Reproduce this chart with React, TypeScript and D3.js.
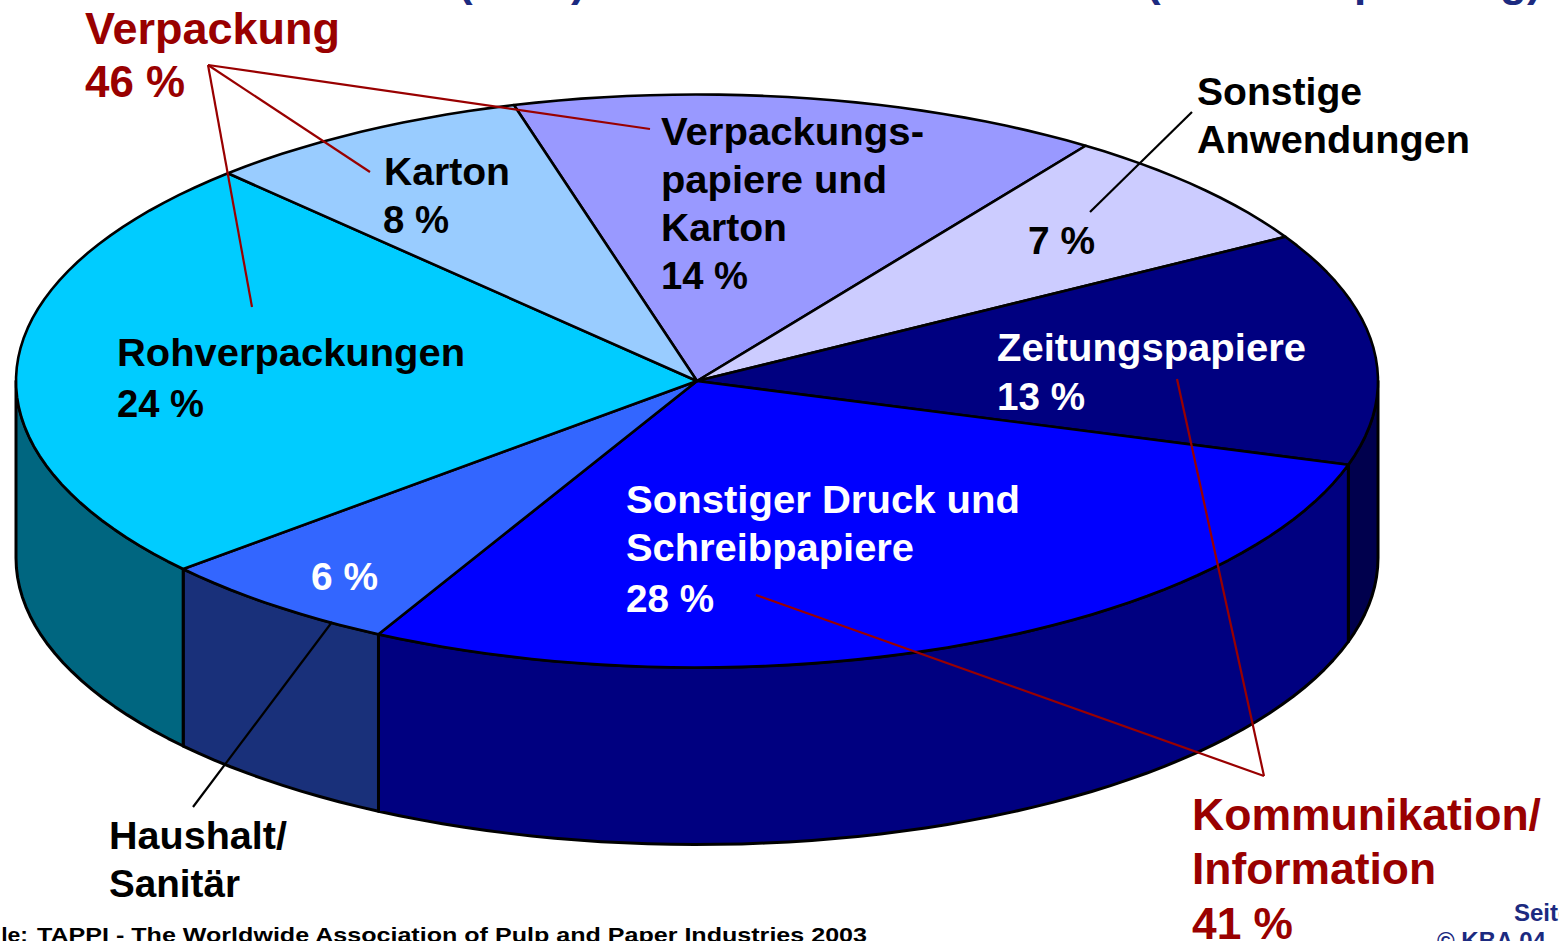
import React from "react";
import * as d3 from "d3";

const categories = [
  "Verpackungspapiere und Karton",
  "Sonstige Anwendungen",
  "Zeitungspapiere",
  "Sonstiger Druck und Schreibpapiere",
  "Haushalt/Sanitär",
  "Rohverpackungen",
  "Karton",
];
const shares = [14, 6.94, 13.11, 28.03, 5.86, 24.3, 7.76];
const topColours = ["#9999FF", "#CCCCFF", "#000080", "#0000FF", "#3366FF", "#00CCFF", "#99CCFF"];
const wallColours = ["#6666AA", "#8888AA", "#00004D", "#000080", "#19307A", "#006680", "#668899"];

// ---- layout ----
const W = 1559;
const H = 941;
const cx = 697;
const cy = 381;
const rx = 681;
const ry = 286.5;
const depth = 177;
const startDeg = -15.6;
const RED = "#990000";
const NAVY = "#1C2A80";

type Lbl = [string, number, number, number, string, number];
// text, x, baseline, width, colour, font size
const texts: Lbl[] = [
  ["Verpackung", 85, 44, 255, RED, 44],
  ["46 %", 85, 97, 100, RED, 44],
  ["Karton", 384, 185, 126, "#000", 39],
  ["8 %", 383, 233, 66, "#000", 39],
  ["Verpackungs-", 661, 145, 263, "#000", 39],
  ["papiere und", 661, 193, 226, "#000", 39],
  ["Karton", 661, 241, 126, "#000", 39],
  ["14 %", 661, 289, 87, "#000", 39],
  ["Sonstige", 1197, 105, 165, "#000", 39],
  ["Anwendungen", 1197, 153, 273, "#000", 39],
  ["7 %", 1028, 254, 67, "#000", 39],
  ["Zeitungspapiere", 997, 361, 309, "#fff", 39],
  ["13 %", 997, 410, 88, "#fff", 39],
  ["Sonstiger Druck und", 626, 513, 394, "#fff", 39],
  ["Schreibpapiere", 626, 561, 288, "#fff", 39],
  ["28 %", 626, 612, 88, "#fff", 39],
  ["6 %", 311, 590, 67, "#fff", 39],
  ["Rohverpackungen", 117, 366, 348, "#000", 39],
  ["24 %", 117, 417, 87, "#000", 39],
  ["Haushalt/", 109, 849, 178, "#000", 39],
  ["Sanitär", 109, 897, 131, "#000", 39],
  ["Kommunikation/", 1192, 830, 349, RED, 44],
  ["Information", 1192, 884, 244, RED, 44],
  ["41 %", 1192, 939, 101, RED, 44],
];

// [x1,y1,x2,y2,colour]
const leaders: [number, number, number, number, string][] = [
  [208, 65, 650, 129, RED],
  [208, 65, 370, 172, RED],
  [208, 65, 252, 307, RED],
  [1264, 776, 1177, 379, RED],
  [1264, 776, 756, 595, RED],
  [1192, 112, 1090, 212, "#000"],
  [332, 622, 193, 807, "#000"],
];

const rad = (d: number) => (d * Math.PI) / 180;
const pt = (a: number, dy = 0): [number, number] => [cx + rx * Math.sin(a), cy - ry * Math.cos(a) + dy];
const samples = (a0: number, a1: number) => {
  const n = Math.max(1, Math.ceil((a1 - a0) / rad(2)));
  return d3.range(n + 1).map((i) => a0 + ((a1 - a0) * i) / n);
};
const line = d3.line();

export default function App() {
  const arcs = d3
    .pie<number>()
    .sort(null)
    .startAngle(rad(startDeg))
    .endAngle(rad(startDeg + 360))(shares);

  const walls = arcs
    .map((a, i) => {
      const a0 = Math.max(a.startAngle, rad(90));
      const a1 = Math.min(a.endAngle, rad(270));
      if (a1 <= a0) return null;
      const top = samples(a0, a1).map((t) => pt(t));
      const bottom = samples(a0, a1).reverse().map((t) => pt(t, depth));
      return { d: line([...top, ...bottom])! + "Z", fill: wallColours[i], key: categories[i] };
    })
    .filter(Boolean) as { d: string; fill: string; key: string }[];

  const tops = arcs.map((a, i) => ({
    d: line([[cx, cy], ...samples(a.startAngle, a.endAngle).map((t) => pt(t))])! + "Z",
    fill: topColours[i],
    key: categories[i],
  }));

  const sans = "'Liberation Sans', Arial, sans-serif";
  return (
    <svg
      width={W}
      height={H}
      viewBox={`0 0 ${W} ${H}`}
      style={{ position: "absolute", left: 0, top: 0, display: "block", background: "#fff" }}
      fontFamily={sans}
      fontWeight="bold"
    >
      {/* cropped title: only the descending glyph parts are visible */}
      <g fill={NAVY} fontSize={44}>
        <text x={458} y={-4}>(</text>
        <text x={571} y={-4}>)</text>
        <text x={1146} y={-4}>(</text>
        <text x={1354} y={-4}>p</text>
        <text x={1500} y={-4}>g)</text>
      </g>

      {walls.map((w) => (
        <path key={w.key} d={w.d} fill={w.fill} stroke="#000" strokeWidth={3} strokeLinejoin="round" />
      ))}
      {tops.map((t) => (
        <path key={t.key} d={t.d} fill={t.fill} stroke="#000" strokeWidth={2.6} strokeLinejoin="round" />
      ))}

      {texts.map(([s, x, y, w, c, fs]) => (
        <text key={s + x + y} x={x} y={y} fill={c} fontSize={fs} textLength={w} lengthAdjust="spacingAndGlyphs">
          {s}
        </text>
      ))}

      {leaders.map(([x1, y1, x2, y2, c]) => (
        <line key={`${x1}-${y1}-${x2}-${y2}`} x1={x1} y1={y1} x2={x2} y2={y2} stroke={c} strokeWidth={2.2} />
      ))}

      <text x={-50} y={942} fill="#000" fontSize={21} textLength={78} lengthAdjust="spacingAndGlyphs">
        Quelle:
      </text>
      <text x={37} y={942} fill="#000" fontSize={21} textLength={830} lengthAdjust="spacingAndGlyphs">
        TAPPI - The Worldwide Association of Pulp and Paper Industries 2003
      </text>
      <text x={1514} y={921} fill={NAVY} fontSize={24}>Seite</text>
      <text x={1437} y={949} fill={NAVY} fontSize={24}>© KBA 04</text>
    </svg>
  );
}
